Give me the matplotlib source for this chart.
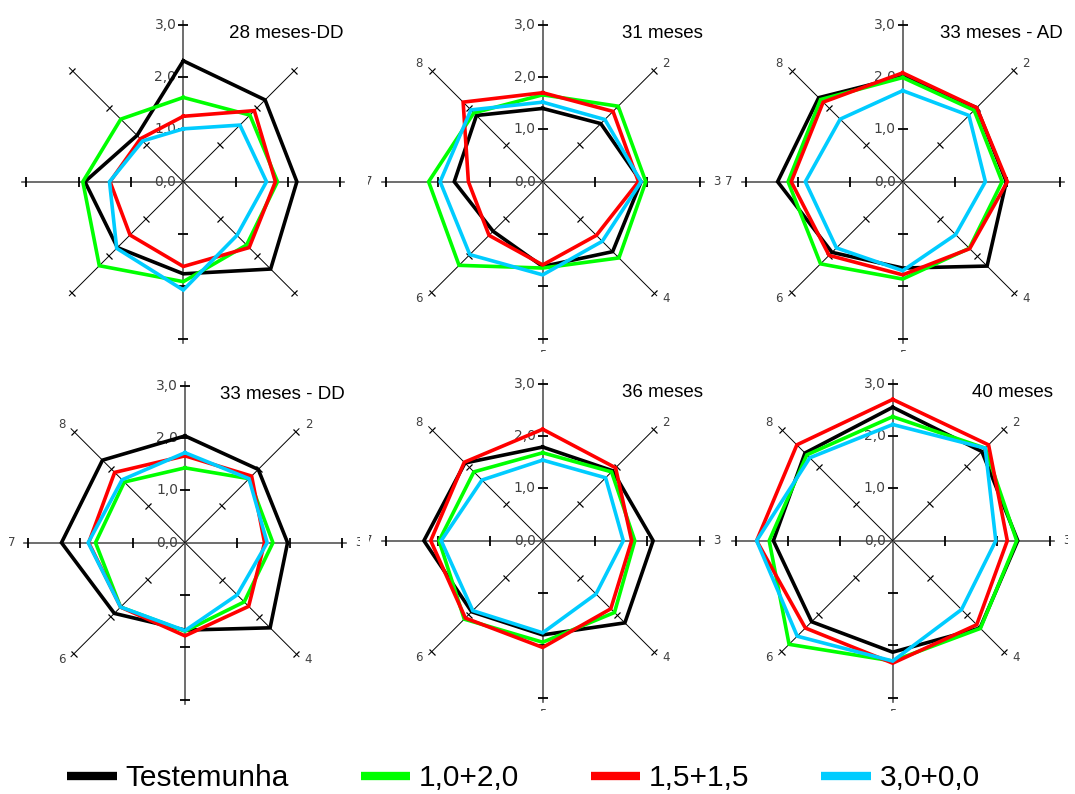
import numpy as np
import matplotlib
matplotlib.use("Agg")
import matplotlib.pyplot as plt
from matplotlib.markers import MarkerStyle
from matplotlib.transforms import Affine2D, Bbox, TransformedBbox

plt.rcParams['font.family'] = ['Liberation Sans', 'DejaVu Sans']

# eixos 1..8, no sentido horário a partir do topo
eixos = ['1', '2', '3', '4', '5', '6', '7', '8']
tratamentos = ['Testemunha', '1,0+2,0', '1,5+1,5', '3,0+0,0']
cores = ['#000000', '#00ff00', '#ff0000', '#00ccff']

titulos = ['28 meses-DD', '31 meses', '33 meses - AD',
           '33 meses - DD', '36 meses', '40 meses']

m28_dd = [[2.31, 2.21, 2.17, 2.36, 1.76, 1.78, 1.88, 1.25],
          [1.61, 1.80, 1.80, 1.71, 1.91, 2.27, 1.92, 1.69],
          [1.25, 1.92, 1.76, 1.78, 1.62, 1.44, 1.40, 1.16],
          [1.01, 1.53, 1.59, 1.45, 2.07, 1.80, 1.41, 1.10]]

m31 = [[1.40, 1.57, 1.88, 1.89, 1.62, 1.34, 1.69, 1.79],
       [1.66, 2.04, 1.97, 2.06, 1.65, 2.26, 2.18, 1.86],
       [1.70, 1.90, 1.83, 1.45, 1.59, 1.45, 1.42, 2.15],
       [1.52, 1.68, 1.88, 1.61, 1.78, 1.97, 1.96, 1.94]]

m33_ad = [[2.01, 2.00, 1.98, 2.28, 1.65, 1.91, 2.39, 2.27],
          [1.99, 1.93, 1.90, 1.80, 1.86, 2.22, 2.19, 2.22],
          [2.08, 2.00, 2.00, 1.81, 1.78, 1.99, 2.13, 2.15],
          [1.74, 1.79, 1.58, 1.43, 1.70, 1.79, 1.86, 1.69]]

m33_dd = [[2.04, 1.98, 1.96, 2.30, 1.67, 1.91, 2.36, 2.23],
          [1.43, 1.73, 1.68, 1.60, 1.69, 1.74, 1.71, 1.64],
          [1.66, 1.80, 1.52, 1.72, 1.78, 1.74, 1.84, 1.90],
          [1.72, 1.73, 1.57, 1.41, 1.68, 1.74, 1.85, 1.70]]

m36 = [[1.79, 1.89, 2.11, 2.22, 1.80, 1.92, 2.27, 2.10],
       [1.68, 1.86, 1.76, 1.94, 1.94, 2.12, 1.98, 1.86],
       [2.13, 1.97, 1.70, 1.84, 2.04, 2.09, 2.14, 2.12],
       [1.54, 1.70, 1.54, 1.44, 1.76, 1.89, 1.94, 1.64]]

m40 = [[2.55, 2.41, 2.39, 2.36, 2.13, 2.19, 2.28, 2.37],
       [2.37, 2.50, 2.37, 2.37, 2.30, 2.80, 2.36, 2.32],
       [2.70, 2.59, 2.19, 2.27, 2.34, 2.36, 2.60, 2.59],
       [2.22, 2.50, 1.97, 1.86, 2.30, 2.58, 2.60, 2.24]]

dados = [m28_dd, m31, m33_ad, m33_dd, m36, m40]
escala = [0.0, 1.0, 2.0, 3.0]

W, H = 1075, 794
fig = plt.figure(figsize=(W / 100, H / 100), dpi=100)

# centro de cada radar (px, a partir do canto superior esquerdo) e área visível
centros = [(183.3, 181.7), (542.7, 181.7), (902.7, 181.7),
           (185.0, 542.7), (542.7, 540.7), (892.7, 540.7)]
paineis = [(0, 15, 358, 352), (368, 15, 722, 352), (722, 15, 1068, 352),
           (0, 375, 360, 711), (369, 375, 722, 711), (722, 375, 1068, 711)]
R = 157  # raio em px para 3,0

ang = np.arange(8) * 2 * np.pi / 8
linhas = []
for i, (cx, cy) in enumerate(centros):
    ax = fig.add_axes([(cx - R) / W, 1 - (cy + R) / H, 2 * R / W, 2 * R / H],
                      projection='polar')
    ax.set_theta_zero_location('N')
    ax.set_theta_direction(-1)
    ax.set_ylim(0, 3)
    ax.axis('off')

    # raios e marcas de escala
    for k, t in enumerate(ang):
        principal = k % 2 == 0
        cor = '#555555' if principal else 'black'
        ax.plot([t, t], [0, 3.08], color=cor, lw=1.2 if principal else 0.7,
                clip_on=False, zorder=1)
        m = MarkerStyle('_', transform=Affine2D().rotate_deg(-k * 45))
        ax.plot([t] * 3, escala[1:], ls='none', marker=m, ms=7,
                mew=1.3 if principal else 0.9, color='black',
                clip_on=False, zorder=1)

    for v in escala:
        ax.annotate(f'{v:.1f}'.replace('.', ','), xy=(0, v), xytext=(-5, 0),
                    textcoords='offset points', ha='right', va='center',
                    fontsize=10, color='#404040', family='DejaVu Sans',
                    annotation_clip=False)

    # séries
    for serie, cor, nome in zip(dados[i], cores, tratamentos):
        vals = serie + serie[:1]
        th = np.append(ang, ang[0])
        ln, = ax.plot(th, vals, color=cor, lw=2.6, label=nome,
                      solid_joinstyle='miter', clip_on=False, zorder=3)
        if i == 0:
            linhas.append(ln)

    # rótulos dos eixos
    if i > 0:
        x0, y0, x1, y1 = paineis[i]
        caixa = TransformedBbox(Bbox.from_extents(x0 / W, 1 - y1 / H,
                                                  x1 / W, 1 - y0 / H),
                                fig.transFigure)
        desloc = [(0, 12), (9, 5), (12, 0), (9, -4),
                  (0, -12), (-9, -4), (-12, 0), (-9, 5)]
        for k, t in enumerate(ang):
            txt = ax.annotate(eixos[k], xy=(t, 3.0), xytext=desloc[k],
                              textcoords='offset points', ha='center',
                              va='center', fontsize=8.5, color='#404040',
                              family='DejaVu Sans', annotation_clip=False)
            txt.set_clip_path(None)
            txt.set_clip_box(caixa)
            txt.set_clip_on(True)

    fig.text((cx + 160) / W, 1 - (cy - 148) / H, titulos[i],
             ha='right', va='center', fontsize=13.5)

leg = fig.legend(handles=linhas, labels=tratamentos, loc='center',
                 bbox_to_anchor=(0.487, 1 - 778 / H), ncol=4, frameon=False,
                 fontsize=21.5, handlelength=1.65, handletextpad=0.3,
                 columnspacing=2.4)
for h in leg.get_lines():
    h.set_linewidth(6)
    h.set_solid_capstyle('butt')

fig.savefig('out.png', dpi=100)
